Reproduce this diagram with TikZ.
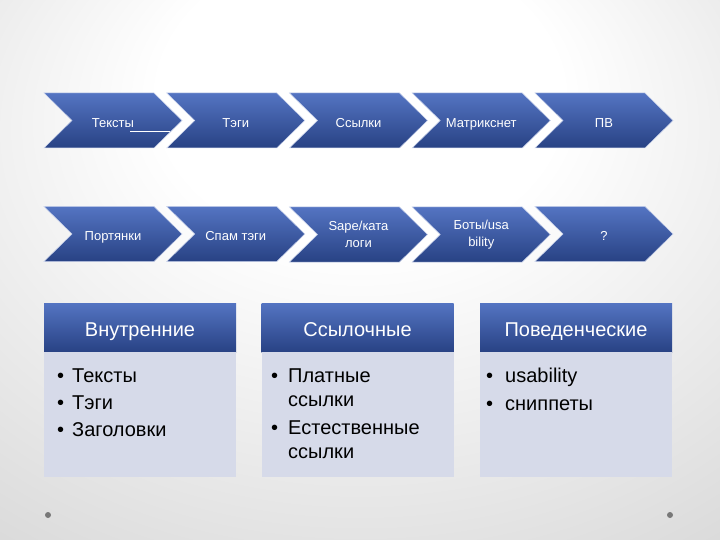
\documentclass[tikz,border=0pt]{standalone}
\usepackage{fontspec}
\setmainfont{Liberation Sans}
\usetikzlibrary{positioning}
\definecolor{chevtop}{RGB}{84,116,194}
\definecolor{chevbot}{RGB}{40,66,132}
\definecolor{bodyfill}{RGB}{214,218,233}
\definecolor{dotgray}{RGB}{120,120,120}
\pgfdeclareradialshading{slidebg}{\pgfpoint{0bp}{20bp}}{color(0bp)=(white); color(14bp)=(white); color(45bp)=(black!16); color(70bp)=(black!25)}

% chevron: [node options] name, centre x, centre y, text
\newcommand{\chevron}[5][]{%
    \shade[chevfill] (#3,#4) ++(-69,-27.5) -- ++(110,0) -- ++(28,27.5)
        -- ++(-28,27.5) -- ++(-110,0) -- ++(28,-27.5) -- cycle;
    \node[chevtext, #1] (#2) at (#3,#4) {#5};}

\begin{document}
\begin{tikzpicture}[x=1pt, y=-1pt,
        chevfill/.style={top color=chevtop, bottom color=chevbot,
                         draw=white!70!chevtop, line width=0.5pt},
        chevtext/.style={inner sep=0pt, text=white, align=center,
                         text height=13.3pt, text depth=0pt,
                         font=\fontsize{13}{17}\selectfont},
        twoline/.style={text height=, text depth=},
        head/.style={rectangle, minimum width=192pt, minimum height=49pt,
                     inner sep=0pt, top color=chevtop, bottom color=chevbot,
                     text=white, text height=18.3pt, text depth=0pt,
                     font=\fontsize{20}{24}\selectfont},
        body/.style={rectangle, minimum width=192pt, minimum height=125pt,
                     inner sep=0pt, anchor=north, fill=bodyfill},
        list/.style={anchor=north west, inner sep=0pt,
                     font=\fontsize{20}{24}\selectfont}
    ]

    % slide background
    \shade[shading=slidebg] (0,0) rectangle (720,540);
    \useasboundingbox (0,0) rectangle (720,540);

    % upper row of chevrons
    \chevron{tekst}{113}{120.5}{Тексты}
    \chevron{tegi}{235.75}{120.5}{Тэги}
    \chevron{ssyl}{358.5}{120.5}{Ссылки}
    \chevron{matr}{481.25}{120.5}{Матрикснет}
    \chevron{pv}{604}{120.5}{ПВ}
    \draw[white, line width=0.8pt] (tekst.center) ++(17, 10.5) -- ++(40, 0);

    % lower row of chevrons
    \chevron{port}{113}{234}{Портянки}
    \chevron{spam}{235.75}{234}{Спам тэги}
    \chevron[twoline]{sape}{358.5}{234.5}{Sape/ката\\логи}
    \chevron[twoline]{boty}{481.25}{234.5}{Боты/usa\\bility}
    \chevron{vopr}{604}{234}{?}

    % factor groups
    \node[head] (vnutr) at (140, 327.5) {Внутренние};
    \node[body] (vnutrbody) at (vnutr.south) {};
    \node[list] at (57, 365)
        {\begin{tabular}{@{}l@{\hspace{8pt}}l@{}}
         • & Тексты\\[3pt] • & Тэги\\[3pt] • & Заголовки
         \end{tabular}};

    \node[head] (ssylk) at (357.5, 327.5) {Ссылочные};
    \node[body] (ssylkbody) at (ssylk.south) {};
    \node[list] at (271, 365)
        {\begin{tabular}{@{}l@{\hspace{10pt}}l@{}}
         • & Платные\\ & ссылки\\[4pt] • & Естественные\\ & ссылки
         \end{tabular}};

    \node[head] (poved) at (576, 327.5) {Поведенческие};
    \node[body] (povedbody) at (poved.south) {};
    \node[list] at (486, 365)
        {\begin{tabular}{@{}l@{\hspace{12pt}}l@{}}
         • & usability\\[4pt] • & сниппеты
         \end{tabular}};

    % corner dots
    \fill[dotgray] (48, 515) circle (3);
    \fill[dotgray] (670, 515) circle (3);

\end{tikzpicture}
\end{document}
